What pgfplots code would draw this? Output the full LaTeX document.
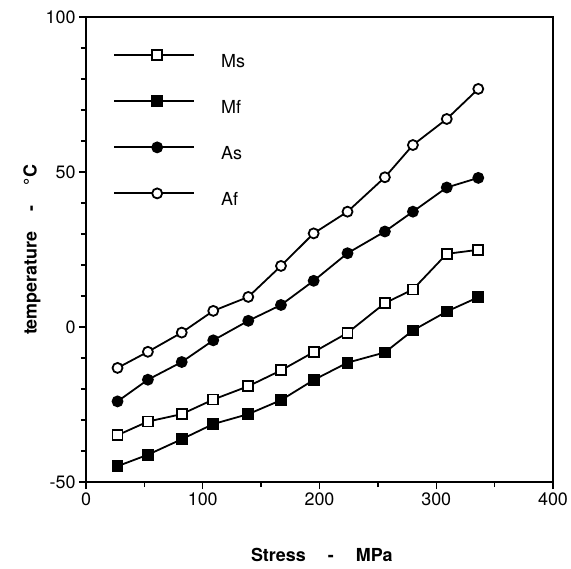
\documentclass[border=0pt]{standalone}
\usepackage{fontspec}
\setmainfont{TeX Gyre Heros}
\usepackage{pgfplots}
\pgfplotsset{compat=1.18}

\begin{document}
\begin{tikzpicture}
\useasboundingbox (-86bp,-87bp) rectangle (485bp,482bp);
\begin{axis}[
    at={(0,0)}, anchor=south west,
    scale only axis,
    width=467bp, height=465bp,
    xmin=0, xmax=400, ymin=-50, ymax=100,
    xtick={0,100,200,300,400},
    ytick={-50,0,50,100},
    minor xtick={50,150,250,350},
    minor ytick={-40,-30,-20,-10,10,20,30,40,60,70,80,90},
    tick align=outside,
    xtick pos=bottom, ytick pos=left,
    major tick length=7bp, minor tick length=5bp,
    axis line style={line width=1.6bp},
    every tick/.style={black, line width=1.4bp},
    tick label style={font=\fontsize{18}{20}\selectfont},
    /pgf/number format/assume math mode=true,
    xlabel={\textbf{Stress\hspace{22bp}-\hspace{22bp}MPa}},
    ylabel={\textbf{temperature\hspace{20bp}-\hspace{20bp}°C}},
    label style={font=\fontsize{18}{20}\selectfont},
    xlabel style={at={(rel axis cs:0.505,-0.157)}, anchor=center},
    ylabel style={at={(rel axis cs:-0.1156,0.499)}, anchor=center},
    every axis plot/.append style={black, line width=1.8bp,
        mark options={solid, line width=1.6bp}},
    legend style={draw=none, fill=none, inner sep=0pt,
        at={(rel axis cs:0.058,0.9286)}, anchor=north west,
        row sep=28.5bp,
        nodes={inner sep=0pt, text height=12bp, text depth=0bp,
            font=\fontsize{18}{20}\selectfont}},
    legend cell align=left,
    legend image code/.code={
        \draw[mark repeat=2, mark phase=2]
            plot coordinates {(0bp,6.5bp) (43bp,6.5bp) (80bp,6.5bp)};
        \path (106bp,6.5bp);
    },
]
% Ms
\addplot[mark=square*, mark size=5bp, mark options={fill=white}] coordinates {
(27,-34.9) (53,-30.5) (82,-28.1) (109,-23.4) (139,-19.1) (167,-14.0)
(195,-8.1) (224,-1.9) (256,7.7) (280,12.1) (309,23.6) (336,24.9)};
\addlegendentry{Ms}
% Mf
\addplot[mark=square*, mark size=5bp, mark options={fill=black}] coordinates {
(27,-44.9) (53,-41.2) (82,-36.2) (109,-31.3) (139,-28.1) (167,-23.6)
(195,-17.1) (224,-11.5) (256,-8.2) (280,-1.1) (309,5.0) (336,9.6)};
\addlegendentry{Mf}
% As
\addplot[mark=*, mark size=5bp, mark options={fill=black}] coordinates {
(27,-24.0) (53,-17.0) (82,-11.3) (109,-4.3) (139,2.0) (167,7.1)
(195,14.9) (224,23.8) (256,30.8) (280,37.2) (309,45.0) (336,48.1)};
\addlegendentry{As}
% Af
\addplot[mark=*, mark size=5bp, mark options={fill=white}] coordinates {
(27,-13.2) (53,-8.0) (82,-1.8) (109,5.2) (139,9.7) (167,19.7)
(195,30.2) (224,37.2) (256,48.3) (280,58.7) (309,67.1) (336,76.8)};
\addlegendentry{Af}
\end{axis}
\end{tikzpicture}
\end{document}
